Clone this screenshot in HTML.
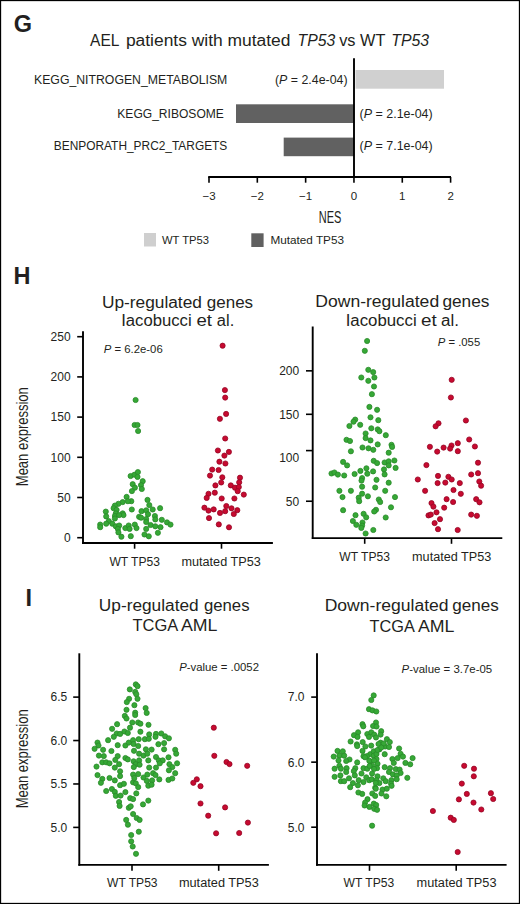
<!DOCTYPE html>
<html><head><meta charset="utf-8"><style>
html,body{margin:0;padding:0;background:#fff;}
svg{display:block;}
text{font-family:"Liberation Sans", sans-serif;fill:#231f20;}
</style></head><body>
<svg width="520" height="904" viewBox="0 0 520 904">
<rect x="0.5" y="0.5" width="519" height="903" fill="#fff" stroke="#000" stroke-width="1.3"/>
<text x="13.8" y="32.4" font-size="23.5" font-weight="bold">G</text>
<text x="13.6" y="284.3" font-size="23.5" font-weight="bold">H</text>
<text x="25.6" y="606.1" font-size="23.5" font-weight="bold">I</text>
<text x="90.1" y="46.2" font-size="16" textLength="29.4" lengthAdjust="spacingAndGlyphs">AEL</text>
<text x="125.9" y="46.2" font-size="16" textLength="164.6" lengthAdjust="spacingAndGlyphs">patients with mutated</text>
<text x="297.6" y="46.2" font-size="16" textLength="37.6" lengthAdjust="spacingAndGlyphs"><tspan font-style="italic">TP53</tspan></text>
<text x="339.2" y="46.2" font-size="16" textLength="46.2" lengthAdjust="spacingAndGlyphs">vs WT</text>
<text x="391.3" y="46.2" font-size="16" textLength="37.8" lengthAdjust="spacingAndGlyphs"><tspan font-style="italic">TP53</tspan></text>
<text x="34" y="83.8" font-size="12" textLength="193.3" lengthAdjust="spacingAndGlyphs">KEGG_NITROGEN_METABOLISM</text>
<text x="117.3" y="118" font-size="12" textLength="106.6" lengthAdjust="spacingAndGlyphs">KEGG_RIBOSOME</text>
<text x="53.8" y="150.2" font-size="12" textLength="173.5" lengthAdjust="spacingAndGlyphs">BENPORATH_PRC2_TARGETS</text>
<text x="275" y="83.8" font-size="12" textLength="72.5" lengthAdjust="spacingAndGlyphs">(<tspan font-style="italic">P</tspan> = 2.4e-04)</text>
<text x="359.6" y="118.3" font-size="12" textLength="73.1" lengthAdjust="spacingAndGlyphs">(<tspan font-style="italic">P</tspan> = 2.1e-04)</text>
<text x="359.6" y="150.4" font-size="12" textLength="73.1" lengthAdjust="spacingAndGlyphs">(<tspan font-style="italic">P</tspan> = 7.1e-04)</text>
<rect x="355.5" y="70" width="88.5" height="18.7" fill="#d0d0d0"/>
<rect x="236" y="104.3" width="118" height="18.7" fill="#616161"/>
<rect x="283.7" y="137.6" width="70.3" height="18.6" fill="#616161"/>
<line x1="354" y1="58.3" x2="354" y2="177.8" stroke="#000" stroke-width="1.9"/>
<line x1="208.2" y1="177" x2="451" y2="177" stroke="#000" stroke-width="1.9"/>
<line x1="209.0" y1="177" x2="209.0" y2="182.7" stroke="#000" stroke-width="1.6"/>
<text x="209.0" y="199.6" font-size="11.5" text-anchor="middle">−3</text>
<line x1="257.32" y1="177" x2="257.32" y2="182.7" stroke="#000" stroke-width="1.6"/>
<text x="257.3" y="199.6" font-size="11.5" text-anchor="middle">−2</text>
<line x1="305.64" y1="177" x2="305.64" y2="182.7" stroke="#000" stroke-width="1.6"/>
<text x="305.6" y="199.6" font-size="11.5" text-anchor="middle">−1</text>
<line x1="353.96000000000004" y1="177" x2="353.96000000000004" y2="182.7" stroke="#000" stroke-width="1.6"/>
<text x="354.0" y="199.6" font-size="11.5" text-anchor="middle">0</text>
<line x1="402.28" y1="177" x2="402.28" y2="182.7" stroke="#000" stroke-width="1.6"/>
<text x="402.3" y="199.6" font-size="11.5" text-anchor="middle">1</text>
<line x1="450.6" y1="177" x2="450.6" y2="182.7" stroke="#000" stroke-width="1.6"/>
<text x="450.6" y="199.6" font-size="11.5" text-anchor="middle">2</text>
<text x="318.7" y="223.3" font-size="16" textLength="22.6" lengthAdjust="spacingAndGlyphs">NES</text>
<rect x="144" y="233" width="12" height="13.5" fill="#cfcfcf"/>
<text x="162" y="243.5" font-size="11" textLength="47" lengthAdjust="spacingAndGlyphs">WT TP53</text>
<rect x="251.3" y="233.3" width="12.3" height="13.7" fill="#606060"/>
<text x="270.4" y="243.5" font-size="11" textLength="73.6" lengthAdjust="spacingAndGlyphs">Mutated TP53</text>
<line x1="83" y1="331.2" x2="83" y2="544" stroke="#000" stroke-width="1.9"/>
<line x1="82.1" y1="543.05" x2="272.9" y2="543.05" stroke="#000" stroke-width="1.9"/>
<line x1="77.2" y1="537.7" x2="83" y2="537.7" stroke="#000" stroke-width="1.6"/>
<text x="70.6" y="542.0" font-size="12" text-anchor="end">0</text>
<line x1="77.2" y1="497.50000000000006" x2="83" y2="497.50000000000006" stroke="#000" stroke-width="1.6"/>
<text x="70.6" y="501.8" font-size="12" text-anchor="end">50</text>
<line x1="77.2" y1="457.30000000000007" x2="83" y2="457.30000000000007" stroke="#000" stroke-width="1.6"/>
<text x="70.6" y="461.6" font-size="12" text-anchor="end">100</text>
<line x1="77.2" y1="417.1" x2="83" y2="417.1" stroke="#000" stroke-width="1.6"/>
<text x="70.6" y="421.4" font-size="12" text-anchor="end">150</text>
<line x1="77.2" y1="376.90000000000003" x2="83" y2="376.90000000000003" stroke="#000" stroke-width="1.6"/>
<text x="70.6" y="381.2" font-size="12" text-anchor="end">200</text>
<line x1="77.2" y1="336.70000000000005" x2="83" y2="336.70000000000005" stroke="#000" stroke-width="1.6"/>
<text x="70.6" y="341.0" font-size="12" text-anchor="end">250</text>
<line x1="134.6" y1="543" x2="134.6" y2="548.7" stroke="#000" stroke-width="1.6"/>
<line x1="221.5" y1="543" x2="221.5" y2="548.7" stroke="#000" stroke-width="1.6"/>
<text x="134.7" y="565.6" font-size="12" text-anchor="middle" textLength="50.6" lengthAdjust="spacingAndGlyphs">WT TP53</text>
<text x="221.1" y="565.6" font-size="12" text-anchor="middle" textLength="79.3" lengthAdjust="spacingAndGlyphs">mutated TP53</text>
<text x="103.75" y="352.5" font-size="11" textLength="59" lengthAdjust="spacingAndGlyphs"><tspan font-style="italic">P</tspan> = 6.2e-06</text>
<text x="0" y="0" font-size="16" textLength="99" lengthAdjust="spacingAndGlyphs" transform="translate(28.2,486.2) rotate(-90)">Mean expression</text>
<line x1="312.7" y1="326.5" x2="312.7" y2="539.0" stroke="#000" stroke-width="1.9"/>
<line x1="311.8" y1="538.1" x2="502.3" y2="538.1" stroke="#000" stroke-width="1.9"/>
<line x1="306" y1="501.23500000000007" x2="312.6" y2="501.23500000000007" stroke="#000" stroke-width="1.6"/>
<text x="299.2" y="505.5" font-size="12" text-anchor="end">50</text>
<line x1="306" y1="450.6" x2="312.6" y2="450.6" stroke="#000" stroke-width="1.6"/>
<text x="299.2" y="462.1" font-size="12" text-anchor="end">100</text>
<line x1="306" y1="414.30500000000006" x2="312.6" y2="414.30500000000006" stroke="#000" stroke-width="1.6"/>
<text x="299.2" y="418.6" font-size="12" text-anchor="end">150</text>
<line x1="306" y1="370.84000000000003" x2="312.6" y2="370.84000000000003" stroke="#000" stroke-width="1.6"/>
<text x="299.2" y="375.1" font-size="12" text-anchor="end">200</text>
<line x1="364.7" y1="538" x2="364.7" y2="543.8" stroke="#000" stroke-width="1.6"/>
<line x1="451.5" y1="538" x2="451.5" y2="543.8" stroke="#000" stroke-width="1.6"/>
<text x="364.6" y="560.8" font-size="12" text-anchor="middle" textLength="50.6" lengthAdjust="spacingAndGlyphs">WT TP53</text>
<text x="451.7" y="560.8" font-size="12" text-anchor="middle" textLength="79.3" lengthAdjust="spacingAndGlyphs">mutated TP53</text>
<text x="437.8" y="345.6" font-size="11" textLength="42.4" lengthAdjust="spacingAndGlyphs"><tspan font-style="italic">P</tspan> = .055</text>
<line x1="79.3" y1="653.3" x2="79.3" y2="865.75" stroke="#000" stroke-width="1.9"/>
<line x1="78.4" y1="864.85" x2="268.9" y2="864.85" stroke="#000" stroke-width="1.9"/>
<line x1="73.2" y1="827.4" x2="79.3" y2="827.4" stroke="#000" stroke-width="1.6"/>
<text x="67.3" y="831.7" font-size="12" text-anchor="end">5.0</text>
<line x1="73.2" y1="783.97" x2="79.3" y2="783.97" stroke="#000" stroke-width="1.6"/>
<text x="67.3" y="788.3" font-size="12" text-anchor="end">5.5</text>
<line x1="73.2" y1="740.54" x2="79.3" y2="740.54" stroke="#000" stroke-width="1.6"/>
<text x="67.3" y="744.8" font-size="12" text-anchor="end">6.0</text>
<line x1="73.2" y1="697.11" x2="79.3" y2="697.11" stroke="#000" stroke-width="1.6"/>
<text x="67.3" y="701.4" font-size="12" text-anchor="end">6.5</text>
<line x1="132.0" y1="864.85" x2="132.0" y2="870.8" stroke="#000" stroke-width="1.6"/>
<line x1="218.7" y1="864.85" x2="218.7" y2="870.8" stroke="#000" stroke-width="1.6"/>
<text x="132.3" y="887.3" font-size="12" text-anchor="middle" textLength="50.6" lengthAdjust="spacingAndGlyphs">WT TP53</text>
<text x="218.85" y="887.3" font-size="12" text-anchor="middle" textLength="79.9" lengthAdjust="spacingAndGlyphs">mutated TP53</text>
<text x="179.2" y="671.2" font-size="11" textLength="79.8" lengthAdjust="spacingAndGlyphs"><tspan font-style="italic">P</tspan>-value = .0052</text>
<text x="0" y="0" font-size="16" textLength="99" lengthAdjust="spacingAndGlyphs" transform="translate(28,808.3) rotate(-90)">Mean expression</text>
<line x1="317" y1="653.3" x2="317" y2="865.75" stroke="#000" stroke-width="1.9"/>
<line x1="316.1" y1="864.85" x2="506.6" y2="864.85" stroke="#000" stroke-width="1.9"/>
<line x1="311.2" y1="827.2" x2="317" y2="827.2" stroke="#000" stroke-width="1.6"/>
<text x="304.5" y="831.5" font-size="12" text-anchor="end">5.0</text>
<line x1="311.2" y1="762.1500000000001" x2="317" y2="762.1500000000001" stroke="#000" stroke-width="1.6"/>
<text x="304.5" y="766.5" font-size="12" text-anchor="end">6.0</text>
<line x1="311.2" y1="697.1" x2="317" y2="697.1" stroke="#000" stroke-width="1.6"/>
<text x="304.5" y="701.4" font-size="12" text-anchor="end">7.0</text>
<line x1="369.5" y1="864.85" x2="369.5" y2="870.8" stroke="#000" stroke-width="1.6"/>
<line x1="456.2" y1="864.85" x2="456.2" y2="870.8" stroke="#000" stroke-width="1.6"/>
<text x="368.85" y="887.2" font-size="12" text-anchor="middle" textLength="50.7" lengthAdjust="spacingAndGlyphs">WT TP53</text>
<text x="456.55" y="887.2" font-size="12" text-anchor="middle" textLength="79.9" lengthAdjust="spacingAndGlyphs">mutated TP53</text>
<text x="401.6" y="673" font-size="11" textLength="90.6" lengthAdjust="spacingAndGlyphs"><tspan font-style="italic">P</tspan>-value = 3.7e-05</text>
<text x="101.92" y="307.5" font-size="16" textLength="100.02" lengthAdjust="spacingAndGlyphs">Up-regulated</text>
<text x="206.84" y="307.5" font-size="16" textLength="46.29" lengthAdjust="spacingAndGlyphs">genes</text>
<text x="121.16" y="325.9" font-size="16" textLength="70.46" lengthAdjust="spacingAndGlyphs">Iacobucci</text>
<text x="196.54" y="325.9" font-size="16" textLength="15.46" lengthAdjust="spacingAndGlyphs">et</text>
<text x="216.87" y="325.9" font-size="16" textLength="17.36" lengthAdjust="spacingAndGlyphs">al.</text>
<text x="315.3" y="307.2" font-size="16" textLength="123.84" lengthAdjust="spacingAndGlyphs">Down-regulated</text>
<text x="442.42" y="307.2" font-size="16" textLength="47.02" lengthAdjust="spacingAndGlyphs">genes</text>
<text x="345.65" y="326.2" font-size="16" textLength="70.97" lengthAdjust="spacingAndGlyphs">Iacobucci</text>
<text x="421.12" y="326.2" font-size="16" textLength="15.68" lengthAdjust="spacingAndGlyphs">et</text>
<text x="441.14" y="326.2" font-size="16" textLength="17.92" lengthAdjust="spacingAndGlyphs">al.</text>
<text x="98.82" y="610.7" font-size="16" textLength="99.82" lengthAdjust="spacingAndGlyphs">Up-regulated</text>
<text x="203.95" y="610.7" font-size="16" textLength="45.57" lengthAdjust="spacingAndGlyphs">genes</text>
<text x="132.5" y="631.0" font-size="16" textLength="45.77" lengthAdjust="spacingAndGlyphs">TCGA</text>
<text x="180.9" y="631.0" font-size="16" textLength="36.5" lengthAdjust="spacingAndGlyphs">AML</text>
<text x="324.7" y="611.4" font-size="16" textLength="123.84" lengthAdjust="spacingAndGlyphs">Down-regulated</text>
<text x="452.23" y="611.4" font-size="16" textLength="46.5" lengthAdjust="spacingAndGlyphs">genes</text>
<text x="369.6" y="631.5" font-size="16" textLength="45.26" lengthAdjust="spacingAndGlyphs">TCGA</text>
<text x="418.0" y="631.5" font-size="16" textLength="36.5" lengthAdjust="spacingAndGlyphs">AML</text>
<g fill="#36a836" stroke="#2a8a2a" stroke-width="0.8">
<circle cx="135.6" cy="400" r="2.58"/>
<circle cx="134.6" cy="425" r="2.58"/>
<circle cx="137.5" cy="425" r="2.58"/>
<circle cx="138.1" cy="431" r="2.58"/>
<circle cx="130.6" cy="476" r="2.58"/>
<circle cx="134.5" cy="474.7" r="2.58"/>
<circle cx="137.9" cy="472.1" r="2.58"/>
<circle cx="137.5" cy="476.9" r="2.58"/>
<circle cx="132.7" cy="484.2" r="2.58"/>
<circle cx="134.9" cy="487.7" r="2.58"/>
<circle cx="131.9" cy="491.1" r="2.58"/>
<circle cx="142.7" cy="481.2" r="2.58"/>
<circle cx="141" cy="485.1" r="2.58"/>
<circle cx="141.8" cy="489" r="2.58"/>
<circle cx="126.6" cy="496.9" r="2.58"/>
<circle cx="131.3" cy="501.2" r="2.58"/>
<circle cx="127.9" cy="501.2" r="2.58"/>
<circle cx="122.7" cy="502.1" r="2.58"/>
<circle cx="118.4" cy="503.8" r="2.58"/>
<circle cx="114.9" cy="505.6" r="2.58"/>
<circle cx="113.6" cy="508.2" r="2.58"/>
<circle cx="131.8" cy="509.5" r="2.58"/>
<circle cx="116.6" cy="509.9" r="2.58"/>
<circle cx="105.8" cy="511.6" r="2.58"/>
<circle cx="122.7" cy="513.4" r="2.58"/>
<circle cx="115.8" cy="513.4" r="2.58"/>
<circle cx="123.5" cy="515.1" r="2.58"/>
<circle cx="114.9" cy="516" r="2.58"/>
<circle cx="106.2" cy="516.4" r="2.58"/>
<circle cx="119.2" cy="515.1" r="2.58"/>
<circle cx="114.9" cy="518.5" r="2.58"/>
<circle cx="108.8" cy="521.1" r="2.58"/>
<circle cx="106.2" cy="523.7" r="2.58"/>
<circle cx="100.2" cy="524.6" r="2.58"/>
<circle cx="100.2" cy="527.2" r="2.58"/>
<circle cx="112.3" cy="523.7" r="2.58"/>
<circle cx="115.8" cy="526.3" r="2.58"/>
<circle cx="119.2" cy="525.5" r="2.58"/>
<circle cx="117.9" cy="528.9" r="2.58"/>
<circle cx="118.4" cy="532.4" r="2.58"/>
<circle cx="121.4" cy="536.7" r="2.58"/>
<circle cx="125.3" cy="528.1" r="2.58"/>
<circle cx="128.7" cy="525.5" r="2.58"/>
<circle cx="129.6" cy="528.9" r="2.58"/>
<circle cx="134.8" cy="524.6" r="2.58"/>
<circle cx="136.5" cy="528.1" r="2.58"/>
<circle cx="130.8" cy="536.2" r="2.58"/>
<circle cx="139.1" cy="516.8" r="2.58"/>
<circle cx="147.5" cy="499.9" r="2.58"/>
<circle cx="149.3" cy="505.1" r="2.58"/>
<circle cx="160.1" cy="508.2" r="2.58"/>
<circle cx="141.5" cy="511.2" r="2.58"/>
<circle cx="146.2" cy="510.3" r="2.58"/>
<circle cx="152.7" cy="509.5" r="2.58"/>
<circle cx="148" cy="514.2" r="2.58"/>
<circle cx="141.1" cy="517.7" r="2.58"/>
<circle cx="146.2" cy="519" r="2.58"/>
<circle cx="154.9" cy="516" r="2.58"/>
<circle cx="155.3" cy="519.4" r="2.58"/>
<circle cx="161.8" cy="519.8" r="2.58"/>
<circle cx="167" cy="522.4" r="2.58"/>
<circle cx="170.5" cy="524.6" r="2.58"/>
<circle cx="146.2" cy="522" r="2.58"/>
<circle cx="150.6" cy="525" r="2.58"/>
<circle cx="155.3" cy="526.3" r="2.58"/>
<circle cx="160.5" cy="527.2" r="2.58"/>
<circle cx="146.2" cy="528.9" r="2.58"/>
<circle cx="157.9" cy="532.8" r="2.58"/>
<circle cx="144.5" cy="534.5" r="2.58"/>
<circle cx="148.8" cy="536.3" r="2.58"/>
</g>
<g fill="#c70a30" stroke="#960624" stroke-width="0.8">
<circle cx="222.6" cy="345.7" r="2.58"/>
<circle cx="224.9" cy="390.1" r="2.58"/>
<circle cx="225.2" cy="397.6" r="2.58"/>
<circle cx="226.1" cy="413.9" r="2.58"/>
<circle cx="219.9" cy="418.8" r="2.58"/>
<circle cx="225.2" cy="438.5" r="2.58"/>
<circle cx="217.9" cy="450.5" r="2.58"/>
<circle cx="228.9" cy="451.9" r="2.58"/>
<circle cx="224.4" cy="455.6" r="2.58"/>
<circle cx="219.4" cy="461.7" r="2.58"/>
<circle cx="225.4" cy="463.5" r="2.58"/>
<circle cx="212.2" cy="469.6" r="2.58"/>
<circle cx="218.6" cy="470" r="2.58"/>
<circle cx="210" cy="475.6" r="2.58"/>
<circle cx="222.3" cy="477.3" r="2.58"/>
<circle cx="221.2" cy="482.5" r="2.58"/>
<circle cx="215.4" cy="485.4" r="2.58"/>
<circle cx="240" cy="477.7" r="2.58"/>
<circle cx="239.2" cy="482.3" r="2.58"/>
<circle cx="230.8" cy="485.4" r="2.58"/>
<circle cx="235" cy="487.7" r="2.58"/>
<circle cx="238.8" cy="487" r="2.58"/>
<circle cx="237.7" cy="491.2" r="2.58"/>
<circle cx="243.8" cy="494.6" r="2.58"/>
<circle cx="208.5" cy="493.8" r="2.58"/>
<circle cx="214.8" cy="492.7" r="2.58"/>
<circle cx="206.7" cy="497.9" r="2.58"/>
<circle cx="221.7" cy="498.5" r="2.58"/>
<circle cx="234.4" cy="498.5" r="2.58"/>
<circle cx="204.4" cy="507.7" r="2.58"/>
<circle cx="208.5" cy="510.6" r="2.58"/>
<circle cx="213.7" cy="509.4" r="2.58"/>
<circle cx="226.3" cy="506" r="2.58"/>
<circle cx="225.2" cy="511.2" r="2.58"/>
<circle cx="220" cy="512.9" r="2.58"/>
<circle cx="231.5" cy="508.3" r="2.58"/>
<circle cx="237.3" cy="510.2" r="2.58"/>
<circle cx="233.8" cy="514" r="2.58"/>
<circle cx="209" cy="518.1" r="2.58"/>
<circle cx="218.8" cy="524.4" r="2.58"/>
<circle cx="229" cy="527.3" r="2.58"/>
</g>
<g fill="#36a836" stroke="#2a8a2a" stroke-width="0.8">
<circle cx="367.1" cy="341" r="2.58"/>
<circle cx="364.8" cy="350.8" r="2.58"/>
<circle cx="368.3" cy="369.8" r="2.58"/>
<circle cx="373.2" cy="372.1" r="2.58"/>
<circle cx="361.3" cy="377.5" r="2.58"/>
<circle cx="374.4" cy="377.5" r="2.58"/>
<circle cx="368.3" cy="380.8" r="2.58"/>
<circle cx="374" cy="386.5" r="2.58"/>
<circle cx="371.9" cy="394.2" r="2.58"/>
<circle cx="369.4" cy="406.9" r="2.58"/>
<circle cx="377.1" cy="409.8" r="2.58"/>
<circle cx="370.5" cy="417.3" r="2.58"/>
<circle cx="378.3" cy="420.2" r="2.58"/>
<circle cx="355.2" cy="419.6" r="2.58"/>
<circle cx="353.5" cy="421.7" r="2.58"/>
<circle cx="360.2" cy="424.8" r="2.58"/>
<circle cx="349.4" cy="426" r="2.58"/>
<circle cx="371.3" cy="428.3" r="2.58"/>
<circle cx="377.7" cy="429.4" r="2.58"/>
<circle cx="379.4" cy="431.2" r="2.58"/>
<circle cx="385.8" cy="435.2" r="2.58"/>
<circle cx="365.6" cy="433.5" r="2.58"/>
<circle cx="365.6" cy="438.1" r="2.58"/>
<circle cx="370.5" cy="440.4" r="2.58"/>
<circle cx="346.5" cy="439.8" r="2.58"/>
<circle cx="350" cy="441" r="2.58"/>
<circle cx="377.7" cy="444.4" r="2.58"/>
<circle cx="391.5" cy="444.8" r="2.58"/>
<circle cx="350.9" cy="451.3" r="2.58"/>
<circle cx="362.5" cy="447.5" r="2.58"/>
<circle cx="368.5" cy="448.3" r="2.58"/>
<circle cx="373.3" cy="449.8" r="2.58"/>
<circle cx="392.1" cy="446.9" r="2.58"/>
<circle cx="388.7" cy="452.7" r="2.58"/>
<circle cx="343.1" cy="461.9" r="2.58"/>
<circle cx="347.1" cy="465.4" r="2.58"/>
<circle cx="373.7" cy="460.8" r="2.58"/>
<circle cx="377.1" cy="463.1" r="2.58"/>
<circle cx="384.6" cy="462.5" r="2.58"/>
<circle cx="388.7" cy="461.3" r="2.58"/>
<circle cx="394.4" cy="460.5" r="2.58"/>
<circle cx="388.7" cy="465.4" r="2.58"/>
<circle cx="395.6" cy="467.9" r="2.58"/>
<circle cx="384" cy="469.4" r="2.58"/>
<circle cx="331.5" cy="473.5" r="2.58"/>
<circle cx="334.4" cy="472.5" r="2.58"/>
<circle cx="337.9" cy="474.6" r="2.58"/>
<circle cx="344.2" cy="475.5" r="2.58"/>
<circle cx="354.6" cy="474" r="2.58"/>
<circle cx="360.4" cy="470.9" r="2.58"/>
<circle cx="366.4" cy="468.3" r="2.58"/>
<circle cx="367.3" cy="473.7" r="2.58"/>
<circle cx="373.1" cy="471.4" r="2.58"/>
<circle cx="384.6" cy="474.4" r="2.58"/>
<circle cx="362.1" cy="478.1" r="2.58"/>
<circle cx="361.5" cy="480.6" r="2.58"/>
<circle cx="376.5" cy="479.8" r="2.58"/>
<circle cx="388.7" cy="482.7" r="2.58"/>
<circle cx="362.1" cy="486.7" r="2.58"/>
<circle cx="375.2" cy="487.5" r="2.58"/>
<circle cx="339.4" cy="490.8" r="2.58"/>
<circle cx="350.9" cy="490.8" r="2.58"/>
<circle cx="385.2" cy="490.8" r="2.58"/>
<circle cx="362.1" cy="493.7" r="2.58"/>
<circle cx="367.9" cy="496.3" r="2.58"/>
<circle cx="342.5" cy="497.1" r="2.58"/>
<circle cx="358.7" cy="497.7" r="2.58"/>
<circle cx="378.8" cy="499.5" r="2.58"/>
<circle cx="380.2" cy="502" r="2.58"/>
<circle cx="395" cy="497.1" r="2.58"/>
<circle cx="359.2" cy="501.2" r="2.58"/>
<circle cx="343.1" cy="510.2" r="2.58"/>
<circle cx="376" cy="509.8" r="2.58"/>
<circle cx="374.2" cy="511.5" r="2.58"/>
<circle cx="391" cy="507.3" r="2.58"/>
<circle cx="355.5" cy="515.2" r="2.58"/>
<circle cx="363.6" cy="513.8" r="2.58"/>
<circle cx="366.2" cy="517.3" r="2.58"/>
<circle cx="385.7" cy="517.5" r="2.58"/>
<circle cx="352.9" cy="521" r="2.58"/>
<circle cx="356.3" cy="524.8" r="2.58"/>
<circle cx="362.5" cy="522.5" r="2.58"/>
<circle cx="362.1" cy="525.6" r="2.58"/>
<circle cx="361.3" cy="527.9" r="2.58"/>
<circle cx="365.6" cy="533.5" r="2.58"/>
<circle cx="373.3" cy="530" r="2.58"/>
</g>
<g fill="#c70a30" stroke="#960624" stroke-width="0.8">
<circle cx="451.7" cy="379.8" r="2.58"/>
<circle cx="450.9" cy="397.5" r="2.58"/>
<circle cx="465.9" cy="420.5" r="2.58"/>
<circle cx="438.5" cy="423.3" r="2.58"/>
<circle cx="435.6" cy="426.3" r="2.58"/>
<circle cx="429.9" cy="446.8" r="2.58"/>
<circle cx="437.2" cy="451.6" r="2.58"/>
<circle cx="443.6" cy="447.6" r="2.58"/>
<circle cx="451.5" cy="445.5" r="2.58"/>
<circle cx="450.1" cy="448.6" r="2.58"/>
<circle cx="457.8" cy="443.2" r="2.58"/>
<circle cx="457.8" cy="451.2" r="2.58"/>
<circle cx="469.2" cy="439.5" r="2.58"/>
<circle cx="474.9" cy="446.5" r="2.58"/>
<circle cx="426.4" cy="465.1" r="2.58"/>
<circle cx="478" cy="462.7" r="2.58"/>
<circle cx="417.8" cy="479.5" r="2.58"/>
<circle cx="438" cy="475.9" r="2.58"/>
<circle cx="448.4" cy="476.8" r="2.58"/>
<circle cx="451.7" cy="479.5" r="2.58"/>
<circle cx="471.2" cy="474.5" r="2.58"/>
<circle cx="478" cy="473.2" r="2.58"/>
<circle cx="437.6" cy="483.1" r="2.58"/>
<circle cx="445.3" cy="482.6" r="2.58"/>
<circle cx="459.8" cy="483.1" r="2.58"/>
<circle cx="479.3" cy="481.5" r="2.58"/>
<circle cx="481.1" cy="485.7" r="2.58"/>
<circle cx="425.1" cy="490.8" r="2.58"/>
<circle cx="453.5" cy="490" r="2.58"/>
<circle cx="460.8" cy="493.8" r="2.58"/>
<circle cx="446.6" cy="499.2" r="2.58"/>
<circle cx="453.1" cy="502" r="2.58"/>
<circle cx="476.2" cy="499.2" r="2.58"/>
<circle cx="479.5" cy="502.3" r="2.58"/>
<circle cx="431.5" cy="503.1" r="2.58"/>
<circle cx="433.4" cy="506.6" r="2.58"/>
<circle cx="444.2" cy="507.7" r="2.58"/>
<circle cx="436.5" cy="512.3" r="2.58"/>
<circle cx="428.5" cy="515.4" r="2.58"/>
<circle cx="430.8" cy="514.6" r="2.58"/>
<circle cx="440" cy="519.2" r="2.58"/>
<circle cx="434.6" cy="523.1" r="2.58"/>
<circle cx="438" cy="529.2" r="2.58"/>
<circle cx="457.7" cy="530" r="2.58"/>
<circle cx="471.2" cy="514.6" r="2.58"/>
<circle cx="476.9" cy="515.8" r="2.58"/>
</g>
<g fill="#36a836" stroke="#2a8a2a" stroke-width="0.8">
<circle cx="135.8" cy="684.4" r="2.58"/>
<circle cx="137.5" cy="686.2" r="2.58"/>
<circle cx="129.8" cy="689.4" r="2.58"/>
<circle cx="135.2" cy="691.9" r="2.58"/>
<circle cx="136.3" cy="694.2" r="2.58"/>
<circle cx="129.1" cy="698.8" r="2.58"/>
<circle cx="126.8" cy="702.1" r="2.58"/>
<circle cx="137.5" cy="698.8" r="2.58"/>
<circle cx="134.4" cy="705.2" r="2.58"/>
<circle cx="145.6" cy="708.1" r="2.58"/>
<circle cx="146.7" cy="712.9" r="2.58"/>
<circle cx="126.5" cy="709.8" r="2.58"/>
<circle cx="135.2" cy="712.7" r="2.58"/>
<circle cx="135.2" cy="715" r="2.58"/>
<circle cx="124.8" cy="715.9" r="2.58"/>
<circle cx="126.5" cy="718.5" r="2.58"/>
<circle cx="117.1" cy="724.2" r="2.58"/>
<circle cx="132.3" cy="722.5" r="2.58"/>
<circle cx="138.1" cy="722.5" r="2.58"/>
<circle cx="140.4" cy="723.7" r="2.58"/>
<circle cx="148.5" cy="724.8" r="2.58"/>
<circle cx="112.1" cy="728.8" r="2.58"/>
<circle cx="130" cy="727.7" r="2.58"/>
<circle cx="116.7" cy="733.5" r="2.58"/>
<circle cx="113.8" cy="736.8" r="2.58"/>
<circle cx="120.1" cy="733.9" r="2.58"/>
<circle cx="124.4" cy="731.5" r="2.58"/>
<circle cx="127.8" cy="733" r="2.58"/>
<circle cx="108.1" cy="740.2" r="2.58"/>
<circle cx="97.5" cy="742.6" r="2.58"/>
<circle cx="98.5" cy="745.5" r="2.58"/>
<circle cx="94.6" cy="748.8" r="2.58"/>
<circle cx="103.1" cy="749.8" r="2.58"/>
<circle cx="111.4" cy="751" r="2.58"/>
<circle cx="117.7" cy="745.2" r="2.58"/>
<circle cx="125.4" cy="745.5" r="2.58"/>
<circle cx="128.8" cy="742.6" r="2.58"/>
<circle cx="133.1" cy="740.2" r="2.58"/>
<circle cx="133.6" cy="744" r="2.58"/>
<circle cx="134" cy="750.8" r="2.58"/>
<circle cx="98.9" cy="755.6" r="2.58"/>
<circle cx="103.8" cy="756.1" r="2.58"/>
<circle cx="102.3" cy="762.3" r="2.58"/>
<circle cx="106.2" cy="762.3" r="2.58"/>
<circle cx="109.5" cy="763.3" r="2.58"/>
<circle cx="117.7" cy="756.1" r="2.58"/>
<circle cx="115.3" cy="759.9" r="2.58"/>
<circle cx="125.4" cy="758" r="2.58"/>
<circle cx="127.8" cy="759.4" r="2.58"/>
<circle cx="133.6" cy="761.3" r="2.58"/>
<circle cx="119.1" cy="764.2" r="2.58"/>
<circle cx="96.5" cy="766.6" r="2.58"/>
<circle cx="114.8" cy="767.6" r="2.58"/>
<circle cx="140.4" cy="731.7" r="2.58"/>
<circle cx="149.2" cy="734.4" r="2.58"/>
<circle cx="156" cy="733.9" r="2.58"/>
<circle cx="161.3" cy="733.5" r="2.58"/>
<circle cx="165.1" cy="736.3" r="2.58"/>
<circle cx="168.9" cy="738.3" r="2.58"/>
<circle cx="155.5" cy="736.8" r="2.58"/>
<circle cx="138.7" cy="739.2" r="2.58"/>
<circle cx="144.9" cy="739.2" r="2.58"/>
<circle cx="148.8" cy="738.8" r="2.58"/>
<circle cx="138.2" cy="746" r="2.58"/>
<circle cx="158.4" cy="744.2" r="2.58"/>
<circle cx="164.1" cy="743.1" r="2.58"/>
<circle cx="145.9" cy="749.3" r="2.58"/>
<circle cx="151.6" cy="749.6" r="2.58"/>
<circle cx="164.1" cy="749.3" r="2.58"/>
<circle cx="175.2" cy="749.8" r="2.58"/>
<circle cx="176.2" cy="753.7" r="2.58"/>
<circle cx="139.1" cy="753.7" r="2.58"/>
<circle cx="143.5" cy="755.6" r="2.58"/>
<circle cx="147.3" cy="753.7" r="2.58"/>
<circle cx="156" cy="757" r="2.58"/>
<circle cx="168.5" cy="757.3" r="2.58"/>
<circle cx="139.1" cy="760.4" r="2.58"/>
<circle cx="148.3" cy="760.4" r="2.58"/>
<circle cx="158.8" cy="760.4" r="2.58"/>
<circle cx="162.7" cy="760.4" r="2.58"/>
<circle cx="159.8" cy="763.3" r="2.58"/>
<circle cx="135.8" cy="764.2" r="2.58"/>
<circle cx="139.6" cy="764.7" r="2.58"/>
<circle cx="133.8" cy="767.1" r="2.58"/>
<circle cx="149.2" cy="767.6" r="2.58"/>
<circle cx="156" cy="767.6" r="2.58"/>
<circle cx="169.4" cy="764.2" r="2.58"/>
<circle cx="172.3" cy="767.1" r="2.58"/>
<circle cx="177.1" cy="763.3" r="2.58"/>
<circle cx="120.1" cy="771.3" r="2.58"/>
<circle cx="97.5" cy="775.1" r="2.58"/>
<circle cx="102.3" cy="778.9" r="2.58"/>
<circle cx="100.9" cy="782.8" r="2.58"/>
<circle cx="109.5" cy="778" r="2.58"/>
<circle cx="114.8" cy="780.4" r="2.58"/>
<circle cx="120.1" cy="776.1" r="2.58"/>
<circle cx="120.1" cy="785.2" r="2.58"/>
<circle cx="123.9" cy="783.8" r="2.58"/>
<circle cx="133.1" cy="774.6" r="2.58"/>
<circle cx="133.1" cy="782.3" r="2.58"/>
<circle cx="106.2" cy="791" r="2.58"/>
<circle cx="111.9" cy="789" r="2.58"/>
<circle cx="114.8" cy="791.9" r="2.58"/>
<circle cx="115.8" cy="795.8" r="2.58"/>
<circle cx="120.6" cy="795.6" r="2.58"/>
<circle cx="125.4" cy="792.1" r="2.58"/>
<circle cx="130.2" cy="798.2" r="2.58"/>
<circle cx="133.1" cy="799.1" r="2.58"/>
<circle cx="119.1" cy="802" r="2.58"/>
<circle cx="119.6" cy="805.9" r="2.58"/>
<circle cx="128.8" cy="807.8" r="2.58"/>
<circle cx="130.7" cy="806.3" r="2.58"/>
<circle cx="133.1" cy="814" r="2.58"/>
<circle cx="168.9" cy="770.3" r="2.58"/>
<circle cx="175.2" cy="773.2" r="2.58"/>
<circle cx="138.2" cy="774.1" r="2.58"/>
<circle cx="143.5" cy="777.5" r="2.58"/>
<circle cx="147.3" cy="774.6" r="2.58"/>
<circle cx="153.1" cy="773.2" r="2.58"/>
<circle cx="155.5" cy="775.1" r="2.58"/>
<circle cx="134.3" cy="778" r="2.58"/>
<circle cx="135.8" cy="783.3" r="2.58"/>
<circle cx="146.8" cy="780.9" r="2.58"/>
<circle cx="152.1" cy="780.4" r="2.58"/>
<circle cx="159.3" cy="779.4" r="2.58"/>
<circle cx="148.3" cy="785.7" r="2.58"/>
<circle cx="151.6" cy="784.7" r="2.58"/>
<circle cx="168.5" cy="779.9" r="2.58"/>
<circle cx="172.3" cy="778.5" r="2.58"/>
<circle cx="138.2" cy="787.1" r="2.58"/>
<circle cx="136.3" cy="793.4" r="2.58"/>
<circle cx="148.3" cy="800.6" r="2.58"/>
<circle cx="143" cy="804.4" r="2.58"/>
<circle cx="136.7" cy="818" r="2.58"/>
<circle cx="139.6" cy="819.9" r="2.58"/>
<circle cx="126.2" cy="819.9" r="2.58"/>
<circle cx="127.9" cy="824.7" r="2.58"/>
<circle cx="138.8" cy="831.7" r="2.58"/>
<circle cx="131.2" cy="835" r="2.58"/>
<circle cx="131.2" cy="841.3" r="2.58"/>
<circle cx="132.7" cy="846.5" r="2.58"/>
<circle cx="136" cy="853.8" r="2.58"/>
</g>
<g fill="#c70a30" stroke="#960624" stroke-width="0.8">
<circle cx="213.8" cy="727.7" r="2.58"/>
<circle cx="214.3" cy="755.8" r="2.58"/>
<circle cx="226.5" cy="762" r="2.58"/>
<circle cx="229.5" cy="764.1" r="2.58"/>
<circle cx="247.2" cy="765.8" r="2.58"/>
<circle cx="196.8" cy="779.3" r="2.58"/>
<circle cx="193.3" cy="782.8" r="2.58"/>
<circle cx="200.5" cy="786.2" r="2.58"/>
<circle cx="200.5" cy="803.5" r="2.58"/>
<circle cx="225.1" cy="807.4" r="2.58"/>
<circle cx="208.2" cy="815.7" r="2.58"/>
<circle cx="247.9" cy="822.6" r="2.58"/>
<circle cx="216.1" cy="833.3" r="2.58"/>
<circle cx="239.2" cy="833" r="2.58"/>
</g>
<g fill="#36a836" stroke="#2a8a2a" stroke-width="0.8">
<circle cx="373.7" cy="695.4" r="2.58"/>
<circle cx="371.3" cy="700" r="2.58"/>
<circle cx="369" cy="709.2" r="2.58"/>
<circle cx="372.5" cy="710.4" r="2.58"/>
<circle cx="376.3" cy="711.5" r="2.58"/>
<circle cx="362.5" cy="724.2" r="2.58"/>
<circle cx="363.3" cy="726.3" r="2.58"/>
<circle cx="376" cy="722.5" r="2.58"/>
<circle cx="373.1" cy="726" r="2.58"/>
<circle cx="376.5" cy="726.5" r="2.58"/>
<circle cx="358.1" cy="732.3" r="2.58"/>
<circle cx="354" cy="735.2" r="2.58"/>
<circle cx="357.5" cy="736.9" r="2.58"/>
<circle cx="367.3" cy="734" r="2.58"/>
<circle cx="371.3" cy="732.3" r="2.58"/>
<circle cx="374.2" cy="734.6" r="2.58"/>
<circle cx="381.2" cy="731.2" r="2.58"/>
<circle cx="380.6" cy="734.6" r="2.58"/>
<circle cx="376" cy="737.5" r="2.58"/>
<circle cx="369" cy="736.9" r="2.58"/>
<circle cx="386.9" cy="739.2" r="2.58"/>
<circle cx="389.8" cy="742.1" r="2.58"/>
<circle cx="380.6" cy="742.7" r="2.58"/>
<circle cx="362.7" cy="742.1" r="2.58"/>
<circle cx="350.6" cy="741.5" r="2.58"/>
<circle cx="356.9" cy="744.4" r="2.58"/>
<circle cx="357.2" cy="746.1" r="2.58"/>
<circle cx="365.4" cy="746.5" r="2.58"/>
<circle cx="371.2" cy="745.6" r="2.58"/>
<circle cx="337.5" cy="750.9" r="2.58"/>
<circle cx="342.8" cy="751.3" r="2.58"/>
<circle cx="333.7" cy="756.6" r="2.58"/>
<circle cx="339.4" cy="755.7" r="2.58"/>
<circle cx="344.2" cy="755.7" r="2.58"/>
<circle cx="362.5" cy="750.9" r="2.58"/>
<circle cx="363.5" cy="756.2" r="2.58"/>
<circle cx="370.2" cy="754.2" r="2.58"/>
<circle cx="338.5" cy="760.5" r="2.58"/>
<circle cx="349.5" cy="759.5" r="2.58"/>
<circle cx="346.2" cy="761" r="2.58"/>
<circle cx="357.2" cy="762.4" r="2.58"/>
<circle cx="370.2" cy="761.4" r="2.58"/>
<circle cx="339.4" cy="765.8" r="2.58"/>
<circle cx="334.6" cy="768.7" r="2.58"/>
<circle cx="340.9" cy="768.7" r="2.58"/>
<circle cx="346.6" cy="768.2" r="2.58"/>
<circle cx="355.3" cy="768.2" r="2.58"/>
<circle cx="363.5" cy="768.2" r="2.58"/>
<circle cx="367.3" cy="768.7" r="2.58"/>
<circle cx="346.2" cy="772" r="2.58"/>
<circle cx="353.8" cy="771.1" r="2.58"/>
<circle cx="334.6" cy="776.8" r="2.58"/>
<circle cx="340.4" cy="775.4" r="2.58"/>
<circle cx="349" cy="778.3" r="2.58"/>
<circle cx="354.8" cy="775.4" r="2.58"/>
<circle cx="361.5" cy="773.5" r="2.58"/>
<circle cx="366.3" cy="777.3" r="2.58"/>
<circle cx="340.9" cy="781.2" r="2.58"/>
<circle cx="344.2" cy="781.2" r="2.58"/>
<circle cx="352.9" cy="783.1" r="2.58"/>
<circle cx="358.7" cy="780.2" r="2.58"/>
<circle cx="363.5" cy="782.1" r="2.58"/>
<circle cx="369.2" cy="780.2" r="2.58"/>
<circle cx="372.1" cy="773.5" r="2.58"/>
<circle cx="385.2" cy="746.5" r="2.58"/>
<circle cx="389" cy="747" r="2.58"/>
<circle cx="379.4" cy="749.4" r="2.58"/>
<circle cx="373.7" cy="751.3" r="2.58"/>
<circle cx="399.1" cy="748.5" r="2.58"/>
<circle cx="384.7" cy="754.2" r="2.58"/>
<circle cx="400.6" cy="753.8" r="2.58"/>
<circle cx="403" cy="756.6" r="2.58"/>
<circle cx="366.9" cy="756.2" r="2.58"/>
<circle cx="373.7" cy="755.7" r="2.58"/>
<circle cx="376.5" cy="759" r="2.58"/>
<circle cx="392.4" cy="759" r="2.58"/>
<circle cx="397.7" cy="758.1" r="2.58"/>
<circle cx="393.8" cy="762.9" r="2.58"/>
<circle cx="412.6" cy="758.1" r="2.58"/>
<circle cx="405.4" cy="762.9" r="2.58"/>
<circle cx="410.2" cy="764.3" r="2.58"/>
<circle cx="377.5" cy="763.8" r="2.58"/>
<circle cx="372.2" cy="765.8" r="2.58"/>
<circle cx="377" cy="768.2" r="2.58"/>
<circle cx="384.7" cy="767.2" r="2.58"/>
<circle cx="390" cy="768.2" r="2.58"/>
<circle cx="395.8" cy="769.1" r="2.58"/>
<circle cx="399.6" cy="769.6" r="2.58"/>
<circle cx="389" cy="772" r="2.58"/>
<circle cx="400.6" cy="773" r="2.58"/>
<circle cx="377.5" cy="776.3" r="2.58"/>
<circle cx="383.3" cy="778.3" r="2.58"/>
<circle cx="392.9" cy="774.4" r="2.58"/>
<circle cx="396.7" cy="775.4" r="2.58"/>
<circle cx="407.3" cy="777.8" r="2.58"/>
<circle cx="371.7" cy="779.2" r="2.58"/>
<circle cx="376.5" cy="780.2" r="2.58"/>
<circle cx="385.7" cy="781.2" r="2.58"/>
<circle cx="391.4" cy="780.2" r="2.58"/>
<circle cx="396.7" cy="779.2" r="2.58"/>
<circle cx="379.4" cy="783.1" r="2.58"/>
<circle cx="391" cy="783.6" r="2.58"/>
<circle cx="350.2" cy="787.2" r="2.58"/>
<circle cx="357.9" cy="785.3" r="2.58"/>
<circle cx="375.2" cy="787.7" r="2.58"/>
<circle cx="358.4" cy="792.5" r="2.58"/>
<circle cx="362.2" cy="793.9" r="2.58"/>
<circle cx="372.3" cy="793.5" r="2.58"/>
<circle cx="375.2" cy="795.9" r="2.58"/>
<circle cx="367.5" cy="799.2" r="2.58"/>
<circle cx="365.1" cy="802.6" r="2.58"/>
<circle cx="364.6" cy="805.5" r="2.58"/>
<circle cx="369.4" cy="806.9" r="2.58"/>
<circle cx="373.8" cy="803.6" r="2.58"/>
<circle cx="376.2" cy="805" r="2.58"/>
<circle cx="374.2" cy="808.8" r="2.58"/>
<circle cx="377.1" cy="809.8" r="2.58"/>
<circle cx="372.1" cy="825.7" r="2.58"/>
<circle cx="375.8" cy="782.9" r="2.58"/>
<circle cx="375.8" cy="788.7" r="2.58"/>
<circle cx="382.5" cy="789.6" r="2.58"/>
<circle cx="386.8" cy="788.7" r="2.58"/>
<circle cx="391.6" cy="785.8" r="2.58"/>
<circle cx="381.5" cy="793.5" r="2.58"/>
<circle cx="386.3" cy="796.3" r="2.58"/>
<circle cx="365" cy="757.3" r="2.58"/>
<circle cx="369.3" cy="760.8" r="2.58"/>
<circle cx="374" cy="760.5" r="2.58"/>
<circle cx="376.5" cy="754" r="2.58"/>
<circle cx="378.5" cy="744" r="2.58"/>
<circle cx="377.5" cy="750" r="2.58"/>
<circle cx="374" cy="768.9" r="2.58"/>
<circle cx="369.6" cy="766" r="2.58"/>
<circle cx="383.7" cy="743.5" r="2.58"/>
<circle cx="381.3" cy="747.5" r="2.58"/>
</g>
<g fill="#c70a30" stroke="#960624" stroke-width="0.8">
<circle cx="464.2" cy="765.8" r="2.58"/>
<circle cx="474" cy="768.7" r="2.58"/>
<circle cx="473.8" cy="776.3" r="2.58"/>
<circle cx="461.8" cy="783.6" r="2.58"/>
<circle cx="466.8" cy="793.9" r="2.58"/>
<circle cx="458.9" cy="799.4" r="2.58"/>
<circle cx="473.5" cy="802.6" r="2.58"/>
<circle cx="490.9" cy="793.2" r="2.58"/>
<circle cx="493.2" cy="799" r="2.58"/>
<circle cx="481.3" cy="809.5" r="2.58"/>
<circle cx="432.9" cy="811" r="2.58"/>
<circle cx="450.7" cy="817.7" r="2.58"/>
<circle cx="453.8" cy="819.9" r="2.58"/>
<circle cx="457.7" cy="852" r="2.58"/>
</g>
</svg>
</body></html>
